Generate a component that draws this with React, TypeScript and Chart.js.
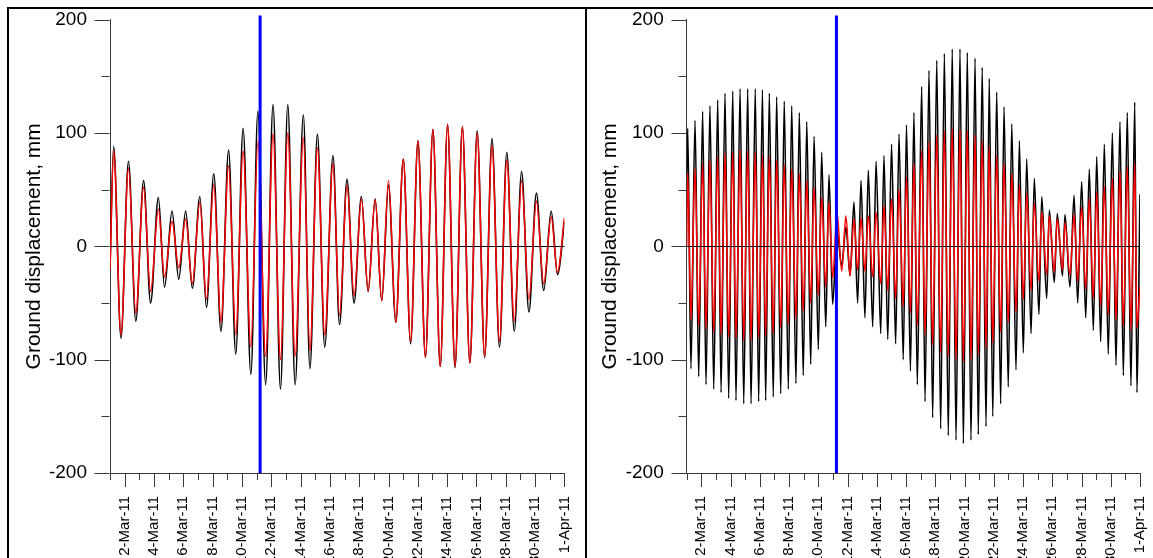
import React, { useEffect, useRef } from 'react';
import { Chart, registerables } from 'chart.js';

Chart.register(...registerables);

const FONT = "'Liberation Sans', Arial, Helvetica, sans-serif";

// X axis: days since 1-Mar-2011 (0 = 1-Mar, 31 = 1-Apr)
const xLabelDays = [1, 3, 5, 7, 9, 11, 13, 15, 17, 19, 21, 23, 25, 27, 29, 31];
const xTickLabels = [
  '2-Mar-11', '4-Mar-11', '6-Mar-11', '8-Mar-11', '10-Mar-11', '12-Mar-11', '14-Mar-11', '16-Mar-11',
  '18-Mar-11', '20-Mar-11', '22-Mar-11', '24-Mar-11', '26-Mar-11', '28-Mar-11', '30-Mar-11', '1-Apr-11',
];
const yMajorTicks = [-200, -100, 0, 100, 200];
const yMinorTicks = [-150, -50, 50, 150];
const earthquakeDay = 10.24;
const yTitle = 'Ground displacement, mm';

// Left panel: times (days) of turning points
const leftTimes = [
  0, 0.25, 0.75, 1.26, 1.76, 2.29, 2.77, 3.3, 3.72, 4.23, 4.69, 5.16, 5.62, 6.13, 6.58, 7.08, 7.57,
  8.09, 8.58, 9.08, 9.61, 10.09, 10.62, 11.12, 11.63, 12.13, 12.63, 13.19, 13.64, 14.15, 14.65,
  15.21, 15.66, 16.17, 16.65, 17.15, 17.61, 18.09, 18.54, 19.0, 19.5, 20.01, 20.51, 21.01, 21.52,
  22.03, 22.53, 23.03, 23.54, 24.04, 24.55, 25.05, 25.56, 26.06, 26.57, 27.07, 27.58, 28.08, 28.58,
  29.09, 29.59, 30.1, 30.53, 31.0,
];
const leftBlack = [
  -20, 88, -81, 75, -66, 58, -50, 43, -36, 31, -29, 31, -37, 44, -54, 64, -75, 85, -95, 104, -113,
  119, -122, 125, -126, 125, -122, 116, -108, 99, -89, 80, -69, 59, -50, 44, -40, 42, -48, 54, -67,
  77, -86, 93, -98, 103, -106, 107, -107, 105, -103, 102, -98, 95, -89, 83, -75, 66, -58, 47, -39,
  31, -25, 22,
];
const leftRed = [
  -20, 84, -78, 69, -59, 52, -40, 33, -27, 22, -19, 24, -33, 39, -47, 55, -67, 71, -78, 84, -89,
  93, -97, 99, -100, 100, -97, 96, -92, 87, -78, 73, -61, 54, -44, 42, -39, 41, -48, 58, -67,
  77, -84, 93, -98, 103, -106, 108, -106, 106, -103, 100, -97, 89, -84, 76, -66, 58, -47, 40, -33,
  26, -23, 25,
];

// Right panel: times (days) of turning points
const rightTimes = [
  0, 0.07, 0.29, 0.57, 0.82, 1.09, 1.32, 1.59, 1.85, 2.12, 2.35, 2.62, 2.87, 3.15, 3.37, 3.65, 3.9,
  4.17, 4.4, 4.69, 4.92, 5.18, 5.4, 5.65, 5.92, 6.15, 6.43, 6.67, 6.95, 7.18, 7.47, 7.7, 7.97, 8.21,
  8.48, 8.71, 9.0, 9.23, 9.51, 9.73, 9.98, 10.28, 10.6, 10.89, 11.17, 11.44, 11.69, 11.92, 12.19,
  12.42, 12.72, 12.95, 13.27, 13.49, 13.75, 14.01, 14.29, 14.52, 14.81, 15.03, 15.3, 15.54, 15.77,
  16.07, 16.3, 16.57, 16.82, 17.1, 17.37, 17.62, 17.89, 18.16, 18.42, 18.69, 18.92, 19.19, 19.44,
  19.72, 19.94, 20.21, 20.47, 20.69, 20.93, 21.2, 21.47, 21.7, 21.99, 22.23, 22.52, 22.75, 23.02,
  23.25, 23.55, 23.77, 24.09, 24.28, 24.62, 24.8, 25.14, 25.34, 25.7, 25.87, 26.21, 26.49, 26.74,
  27.01, 27.29, 27.53, 27.81, 28.04, 28.31, 28.56, 28.83, 29.11, 29.36, 29.63, 29.86, 30.13, 30.38,
  30.64, 30.79, 31.0,
];
const rightBlack = [
  60,
  104, -108, 111, -115, 119, -122, 124, -126, 129, -129, 135, -134, 137, -136, 139, -139, 139, -139, 139, -137,
  138, -136, 135, -133, 132, -130, 128, -126, 124, -121, 118, -114, 110, -104, 97, -91, 83, -71, 63, -51,
  13, -17, 17, -26, 39, -50, 58, -63, 67, -71, 75, -77, 80, -82, 90, -86, 99, -100, 107, -110,
  118, -122, 141, -137, 155, -151, 164, -161, 170, -167, 174, -171, 174, -174, 171, -171, 166, -166, 158, -159,
  148, -150, 136, -139, 123, -124, 108, -109, 93, -94, 77, -77, 60, -60, 44, -46, 32, -32, 29, -26,
  28, -36, 45, -50, 57, -63, 68, -74, 79, -84, 90, -95, 100, -105, 110, -114, 118, -123, 127, -129,
  46,
];
const rightRed = [
  0,
  64, -65, 69, -70, 73, -73, 76, -76, 79, -78, 82, -80, 83, -81, 85, -83, 84, -83, 83, -81,
  80, -79, 79, -77, 76, -72, 72, -69, 68, -64, 64, -57, 58, -50, 52, -43, 43, -36, 39, -28,
  30, -22, 27, -26, 24, -21, 25, -22, 27, -27, 30, -33, 36, -39, 42, -46, 50, -53, 61, -59,
  73, -70, 85, -78, 92, -87, 98, -94, 102, -97, 104, -100, 103, -102, 102, -100, 98, -96, 93, -90,
  88, -85, 80, -76, 73, -67, 64, -58, 54, -47, 47, -39, 38, -31, 30, -25, 27, -23, 24, -21,
  21, -25, 28, -31, 35, -38, 42, -46, 48, -53, 53, -60, 60, -65, 66, -70, 70, -74, 73, -72,
  -35,
];

const AXIS_COLOR = '#3a3a3a';

const decorPlugin = {
  id: 'decor',
  afterDatasetsDraw(chart: any) {
    const { ctx, chartArea: a, scales } = chart;
    const xs = scales.x;
    const ys = scales.y;
    ctx.save();
    const y0 = Math.round(ys.getPixelForValue(0)) + 0.5;
    ctx.strokeStyle = '#000000';
    ctx.lineWidth = 1;
    ctx.beginPath();
    ctx.moveTo(a.left, y0);
    ctx.lineTo(a.right, y0);
    ctx.stroke();
    const xq = xs.getPixelForValue(earthquakeDay);
    ctx.strokeStyle = '#0000ff';
    ctx.lineWidth = 3;
    ctx.beginPath();
    ctx.moveTo(xq, a.top - 4);
    ctx.lineTo(xq, a.bottom);
    ctx.stroke();
    ctx.restore();
  },
  afterDraw(chart: any) {
    const { ctx, chartArea: a, scales } = chart;
    const xs = scales.x;
    const ys = scales.y;
    ctx.save();
    ctx.strokeStyle = AXIS_COLOR;
    ctx.lineWidth = 1;
    ctx.beginPath();
    const xl = Math.round(a.left) - 0.5;
    [...yMajorTicks, ...yMinorTicks].forEach((v) => {
      const len = yMajorTicks.includes(v) ? 15 : 8;
      const py = Math.round(ys.getPixelForValue(v)) + 0.5;
      ctx.moveTo(xl - len, py);
      ctx.lineTo(xl, py);
    });
    const yb = Math.round(a.bottom);
    for (let d = 0; d <= 31; d++) {
      const len = xLabelDays.includes(d) ? 14 : 7;
      const px = Math.round(xs.getPixelForValue(d)) + 0.5;
      ctx.moveTo(px, yb);
      ctx.lineTo(px, yb + len);
    }
    ctx.stroke();
    ctx.restore();
  },
};

type PanelProps = {
  left: number;
  width: number;
  axisWidth: number;
  titlePad: number;
  rightPad: number;
  times: number[];
  black: number[];
  red: number[];
};

function Panel(p: PanelProps) {
  const ref = useRef<HTMLCanvasElement>(null);
  useEffect(() => {
    const canvas = ref.current;
    if (!canvas) return;
    const blackPts = p.times.map((t, i) => ({ x: t, y: p.black[i] }));
    const redPts = p.times.map((t, i) => ({ x: t, y: p.red[i] }));
    const chart = new Chart(canvas, {
      type: 'line',
      data: {
        datasets: [
          {
            label: 'red',
            data: redPts,
            borderColor: '#ff0000',
            borderWidth: 1.5,
            pointRadius: 0,
            fill: false,
            cubicInterpolationMode: 'monotone',
            order: 0,
          },
          {
            label: 'black',
            data: blackPts,
            borderColor: '#000000',
            borderWidth: 1.6,
            pointRadius: 0,
            fill: false,
            cubicInterpolationMode: 'monotone',
            order: 1,
          },
        ],
      },
      options: {
        animation: false,
        responsive: false,
        devicePixelRatio: 1,
        events: [],
        layout: { padding: { left: 0, top: 19.6, right: p.rightPad, bottom: 0 } },
        plugins: { legend: { display: false }, tooltip: { enabled: false } },
        scales: {
          x: {
            type: 'linear',
            min: 0,
            max: 31,
            afterBuildTicks: (s: any) => {
              s.ticks = Array.from({ length: 32 }, (_, d) => ({ value: d }));
            },
            afterFit: (s: any) => {
              s.height = 85;
              s.paddingLeft = 0;
              s.paddingRight = 0;
            },
            ticks: {
              autoSkip: false,
              maxRotation: 90,
              minRotation: 90,
              padding: 23,
              color: '#000000',
              font: { family: FONT, size: 15 },
              callback: (v: any) => {
                const k = xLabelDays.indexOf(Number(v));
                return k >= 0 ? xTickLabels[k] : '';
              },
            },
            grid: { display: false, drawTicks: false },
            border: { display: true, color: AXIS_COLOR, width: 1 },
          },
          y: {
            type: 'linear',
            min: -200,
            max: 200,
            afterBuildTicks: (s: any) => {
              s.ticks = yMajorTicks.map((v) => ({ value: v }));
            },
            afterFit: (s: any) => {
              s.width = p.axisWidth;
              s.paddingTop = 0;
              s.paddingBottom = 0;
            },
            ticks: {
              padding: 23,
              color: '#000000',
              font: { family: FONT, size: 19 },
              callback: (v: any) => String(v),
            },
            grid: { display: false, drawTicks: false },
            border: { display: true, color: AXIS_COLOR, width: 1 },
            title: {
              display: true,
              text: yTitle,
              color: '#000000',
              font: { family: FONT, size: 21 },
              padding: { top: p.titlePad, bottom: 0 },
            },
          },
        },
      },
      plugins: [decorPlugin],
    } as any);
    return () => chart.destroy();
  }, []);
  return (
    <canvas
      ref={ref}
      width={p.width}
      height={558}
      style={{ position: 'absolute', left: p.left, top: 0, width: p.width, height: 558 }}
    />
  );
}

export default function App() {
  return (
    <div
      style={{
        position: 'fixed',
        left: 0,
        top: 0,
        width: 1153,
        height: 558,
        overflow: 'hidden',
        background: '#ffffff',
      }}
    >
      <Panel left={0} width={585} axisWidth={110} titlePad={21.4} rightPad={20.6}
        times={leftTimes} black={leftBlack} red={leftRed} />
      <Panel left={586} width={567} axisWidth={100.7} titlePad={11.4} rightPad={13}
        times={rightTimes} black={rightBlack} red={rightRed} />
      <div style={{ position: 'absolute', left: 7, top: 7, width: 1200, height: 2, background: '#000' }} />
      <div style={{ position: 'absolute', left: 7, top: 7, width: 2, height: 600, background: '#000' }} />
      <div style={{ position: 'absolute', left: 585, top: 7, width: 2, height: 600, background: '#000' }} />
    </div>
  );
}
